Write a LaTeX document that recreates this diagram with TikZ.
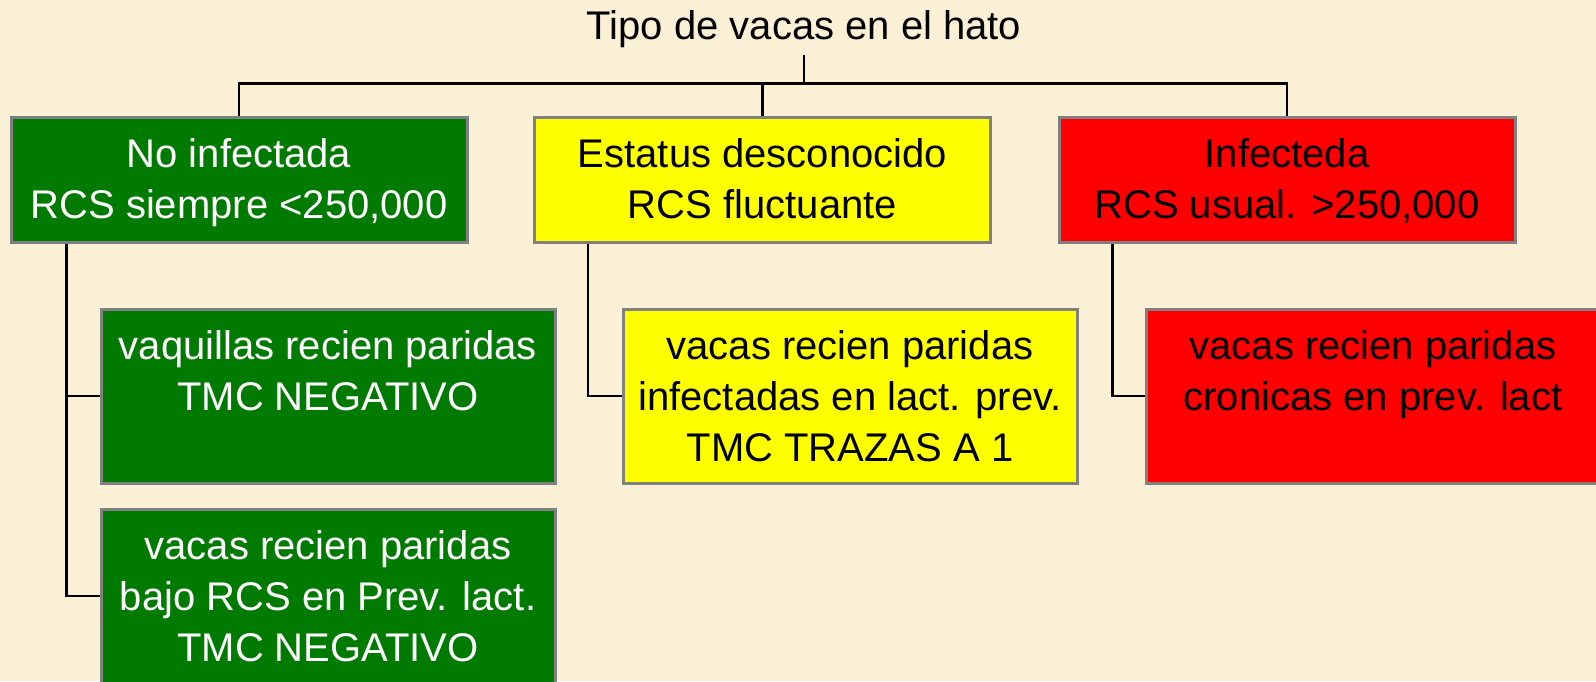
\documentclass[tikz,border=0pt]{standalone}
\usepackage{fontspec}
\setmainfont{Liberation Sans}
\usetikzlibrary{positioning}
\definecolor{mbg}{rgb}{0.98, 0.94, 0.84}
\definecolor{mgray}{rgb}{0.5, 0.5, 0.5}
\definecolor{mgreen}{rgb}{0, 0.48, 0}
\definecolor{myellow}{rgb}{1, 1, 0}
\definecolor{mred}{rgb}{1, 0, 0}
\tikzset{box/.style = {draw = mgray, line width = 1.5pt, inner sep = 0, align = center,
                       font = \fontsize{20}{25.5}\selectfont}}
\tikzset{top/.style = {box, minimum width = 228pt, minimum height = 62.5pt, text depth = 1pt}}
\tikzset{sub/.style = {box, minimum width = 227pt, minimum height = 87pt}}
\tikzset{link/.style = {line width = 1.3pt}}

\begin{document}
\begin{tikzpicture}[x = 0.5pt, y = -0.5pt]
      \fill [mbg] (0, 0) rectangle (1596, 681);
      \useasboundingbox (0, 0) rectangle (1596, 681);

      \node [font = \fontsize{20}{25.5}\selectfont] (title) at (804, 29) {Tipo de vacas en el hato};
      \coordinate (bus) at (804, 83.5);

      \node [top, fill = mgreen, text = white] (noinf) at (239, 179.5) {No infectada\\RCS siempre <250,000};
      \node [top, fill = myellow] (unknown) at (762.5, 179.5) {Estatus desconocido\\RCS fluctuante};
      \node [top, fill = mred] (infected) at (1287, 179.5) {Infecteda\\RCS usual. >250,000};

      \node [sub, fill = mgreen, text = white] (heifers) at (328, 396) {vaquillas recien paridas\\TMC NEGATIVO\\\mbox{}};
      \node [sub, fill = mgreen, text = white] (lowcows) at (328, 596) {vacas recien paridas\\bajo RCS en Prev. lact.\\TMC NEGATIVO};
      \node [sub, fill = myellow] (prevcows) at (850, 396) {vacas recien paridas\\infectadas en lact. prev.\\TMC TRAZAS A 1};
      \node [sub, fill = mred] (chronic) at (1373, 396) {vacas recien paridas\\cronicas en prev. lact\\\mbox{}};

      \draw [link] (title) -- (bus);
      \draw [link] (noinf.north) |- (bus) -| (infected.north);
      \draw [link] (unknown.north |- bus) -- (unknown.north);

      \draw [link] ([xshift = 28.5pt] noinf.south west) |- (heifers.west);
      \draw [link] ([xshift = 28.5pt] noinf.south west) |- (lowcows.west);
      \draw [link] ([xshift = 27.5pt] unknown.south west) |- (prevcows.west);
      \draw [link] ([xshift = 27.5pt] infected.south west) |- (chronic.west);
    \end{tikzpicture}
\end{document}
